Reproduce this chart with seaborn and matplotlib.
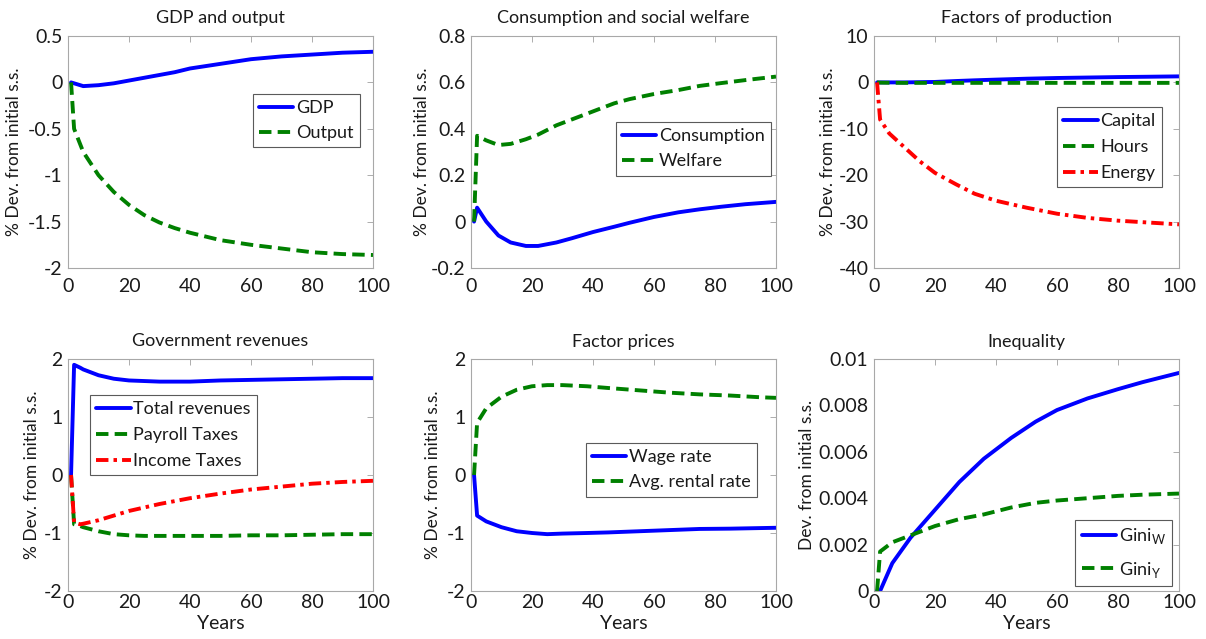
import matplotlib
matplotlib.use("Agg")
import matplotlib.pyplot as plt
import seaborn as sns
import numpy as np
from matplotlib.ticker import FuncFormatter, MultipleLocator

sns.set_style("white")
plt.rcParams["font.family"] = ["Lato", "DejaVu Sans"]
plt.rcParams["axes.unicode_minus"] = False
plt.rcParams["mathtext.fontset"] = "custom"
plt.rcParams["mathtext.rm"] = "Lato"

# ---------------- data ----------------
yrs_a = [1, 2, 5, 10, 15, 20, 25, 30, 35, 40, 50, 60, 70, 80, 90, 100]
gdp = [0, -0.01, -0.04, -0.03, -0.01, 0.02, 0.05, 0.08, 0.11, 0.15, 0.2, 0.25, 0.28, 0.3, 0.32, 0.33]
output = [0, -0.5, -0.75, -1.0, -1.18, -1.32, -1.43, -1.51, -1.57, -1.62, -1.7, -1.75, -1.79, -1.83, -1.85, -1.86]

yrs_b = [1, 2, 5, 9, 13, 18, 22, 28, 33, 40, 47, 52, 60, 68, 75, 82, 90, 100]
consumption = [0, 0.06, 0.0, -0.06, -0.09, -0.105, -0.105, -0.09, -0.072, -0.045, -0.022, -0.005, 0.02, 0.04, 0.053, 0.064, 0.075, 0.085]
welfare = [0, 0.37, 0.35, 0.33, 0.335, 0.355, 0.375, 0.415, 0.44, 0.475, 0.51, 0.528, 0.55, 0.567, 0.585, 0.597, 0.61, 0.625]

yrs_c = [1, 2, 5, 10, 15, 20, 27, 33, 40, 50, 60, 70, 80, 90, 100]
capital = [0, 0, 0, 0, 0.05, 0.1, 0.3, 0.45, 0.6, 0.8, 0.95, 1.05, 1.15, 1.22, 1.3]
hours = [0, -0.05, -0.08, -0.1, -0.1, -0.1, -0.1, -0.1, -0.1, -0.1, -0.1, -0.1, -0.1, -0.1, -0.1]
energy = [0, -8, -11, -14, -17, -19.5, -22, -24, -25.5, -27, -28.3, -29.2, -29.8, -30.2, -30.6]

yrs_d = [1, 2, 4, 5, 10, 15, 20, 25, 30, 40, 50, 60, 70, 80, 90, 100]
total_rev = [0, 1.9, 1.85, 1.82, 1.72, 1.66, 1.63, 1.62, 1.61, 1.61, 1.63, 1.64, 1.65, 1.66, 1.67, 1.67]
payroll = [0, -0.85, -0.88, -0.9, -0.97, -1.02, -1.04, -1.05, -1.05, -1.05, -1.05, -1.04, -1.04, -1.03, -1.02, -1.02]
income = [0, -0.82, -0.85, -0.84, -0.78, -0.7, -0.62, -0.56, -0.5, -0.4, -0.32, -0.25, -0.2, -0.15, -0.12, -0.1]

yrs_e = [1, 2, 5, 10, 15, 20, 25, 30, 38, 45, 55, 65, 75, 85, 95, 100]
wage = [0, -0.7, -0.8, -0.9, -0.97, -1.0, -1.02, -1.01, -1.0, -0.99, -0.97, -0.95, -0.93, -0.925, -0.915, -0.91]
rental = [0, 0.9, 1.15, 1.35, 1.47, 1.53, 1.55, 1.55, 1.53, 1.5, 1.46, 1.42, 1.39, 1.37, 1.34, 1.33]

yrs_f = [1, 2, 6, 12, 20, 28, 36, 45, 53, 60, 70, 80, 88, 100]
gini_w = [0, 0, 0.0012, 0.0023, 0.0035, 0.0047, 0.0057, 0.0066, 0.0073, 0.0078, 0.0083, 0.0087, 0.009, 0.0094]
gini_y = [0, 0.0017, 0.0021, 0.0024, 0.0028, 0.0031, 0.0033, 0.0036, 0.0038, 0.0039, 0.004, 0.0041, 0.00415, 0.0042]

titles = ["GDP and output", "Consumption and social welfare", "Factors of production",
          "Government revenues", "Factor prices", "Inequality"]
ylabels = ["% Dev. from initial s.s."] * 5 + ["Dev. from initial s.s."]

# ---------------- layout ----------------
W, H = 1206, 639
fig = plt.figure(figsize=(W / 100, H / 100), dpi=100)
fig.patch.set_facecolor("white")

lefts = [68, 471, 874]
tops = [36, 359]
aw, ah = 305, 232

BLUE, GREEN, RED = "#0000FF", "#008000", "#FF0000"
LW = 2.8
DASH = (3.2, 1.6)
DASHDOT = (3.2, 1.3, 0.9, 1.3)

panels = [
    dict(x=yrs_a, series=[(gdp, "GDP", BLUE, None), (output, "Output", GREEN, DASH)],
         ylim=(-2, 0.5), step=0.5, leg=dict(loc="upper right", anchor=(0.957, 0.751)), ylx=-0.151, ls=0.5),
    dict(x=yrs_b, series=[(consumption, "Consumption", BLUE, None), (welfare, "Welfare", GREEN, DASH)],
         ylim=(-0.2, 0.8), step=0.2, leg=dict(loc="upper right", anchor=(0.984, 0.629)), ylx=-0.134, ls=0.5),
    dict(x=yrs_c, series=[(capital, "Capital", BLUE, None), (hours, "Hours", GREEN, DASH),
                          (energy, "Energy", RED, DASHDOT)],
         ylim=(-40, 10), step=10, leg=dict(loc="upper right", anchor=(0.944, 0.694)), ylx=-0.124, ls=0.55),
    dict(x=yrs_d, series=[(total_rev, "Total revenues", BLUE, None), (payroll, "Payroll Taxes", GREEN, DASH),
                          (income, "Income Taxes", RED, DASHDOT)],
         ylim=(-2, 2), step=1, leg=dict(loc="upper left", anchor=(0.072, 0.845)), ylx=-0.092, ls=0.55),
    dict(x=yrs_e, series=[(wage, "Wage rate", BLUE, None), (rental, "Avg. rental rate", GREEN, DASH)],
         ylim=(-2, 2), step=1, leg=dict(loc="upper right", anchor=(0.9375, 0.638)), ylx=-0.099, ls=0.5),
    dict(x=yrs_f, series=[(gini_w, r"Gini$_\mathregular{W}$", BLUE, None),
                          (gini_y, r"Gini$_\mathregular{Y}$", GREEN, DASH)],
         ylim=(0, 0.01), step=0.002, leg=dict(loc="lower right", anchor=(0.977, 0.022)), ylx=-0.193, ls=0.75),
]

fmt = FuncFormatter(lambda v, p: ("%g" % round(v, 6)))

for i, pdef in enumerate(panels):
    r, c = divmod(i, 3)
    l, t = lefts[c], tops[r]
    ax = fig.add_axes([l / W, 1 - (t + ah) / H, aw / W, ah / H])
    for vals, lab, col, dash in pdef["series"]:
        sns.lineplot(x=pdef["x"], y=vals, ax=ax, color=col, linewidth=LW, label=lab)
        if dash is not None:
            ax.lines[-1].set_dashes(dash)
    ax.set_xlim(0, 100)
    ax.set_ylim(*pdef["ylim"])
    ax.xaxis.set_major_locator(MultipleLocator(20))
    ax.yaxis.set_major_locator(MultipleLocator(pdef["step"]))
    ax.yaxis.set_major_formatter(fmt)
    ax.tick_params(direction="in", length=4, width=0.6, color="#a0a0a0",
                   top=True, right=True, labelsize=14, labelcolor="#1a1a1a")
    ax.tick_params(axis="y", pad=4)
    ax.tick_params(axis="x", pad=(7 if r == 0 else 2))
    for s in ax.spines.values():
        s.set_color("#a8a8a8")
        s.set_linewidth(0.8)
    ax.set_title(titles[i], fontsize=13, color="#1a1a1a", pad=9)
    ax.set_ylabel(ylabels[i], fontsize=12.5, color="#1a1a1a")
    ax.yaxis.set_label_coords(pdef["ylx"], 0.5)
    if r == 1:
        ax.set_xlabel("Years", fontsize=14, color="#1a1a1a", labelpad=3)
    else:
        ax.set_xlabel("")
    lg = ax.legend(loc=pdef["leg"]["loc"], bbox_to_anchor=pdef["leg"]["anchor"],
                   borderaxespad=0, fontsize=13, frameon=True, fancybox=False,
                   framealpha=1, edgecolor="#5a5a5a", handlelength=1.9,
                   handletextpad=0.15, labelspacing=pdef["ls"], borderpad=0.35)
    lg.get_frame().set_linewidth(0.8)
    for txt in lg.get_texts():
        txt.set_color("#1a1a1a")

fig.savefig("out.png", dpi=100, facecolor="white")
